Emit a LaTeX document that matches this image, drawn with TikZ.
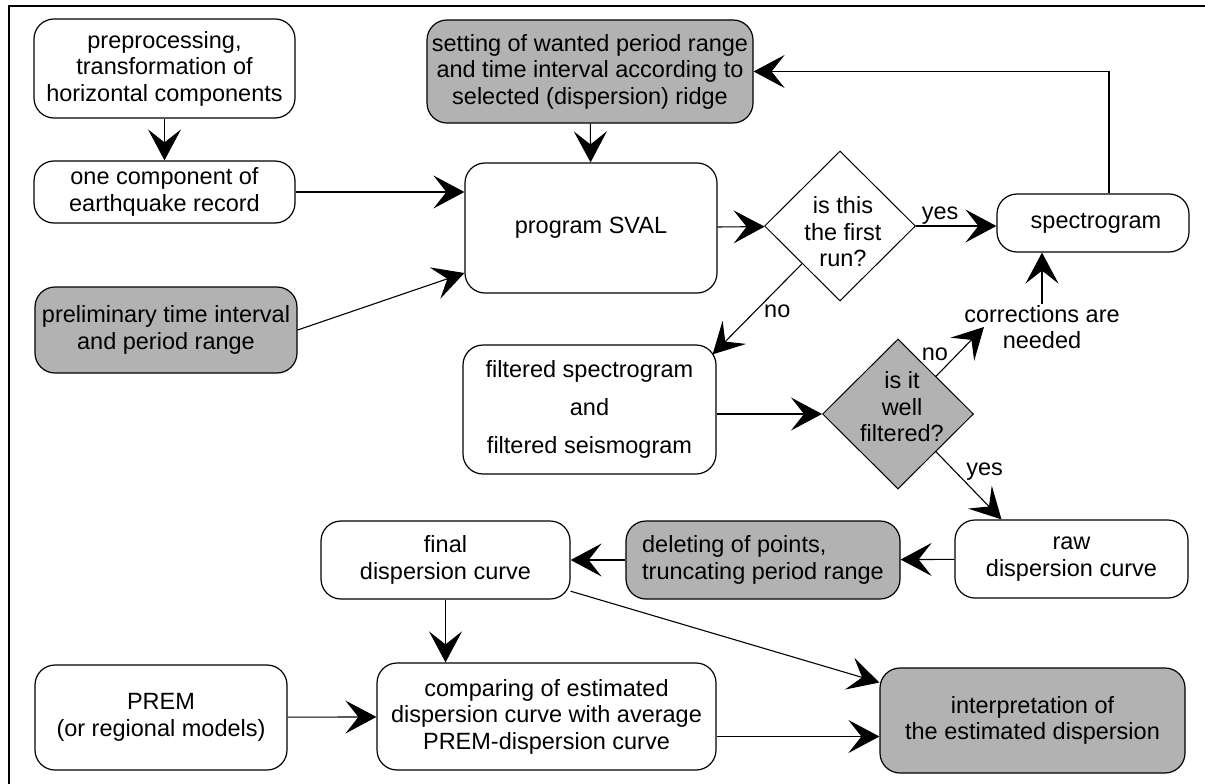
\documentclass[tikz,border=0pt]{standalone}
\usepackage{fontspec}
\setmainfont{Liberation Sans}
\usetikzlibrary{shapes.geometric,arrows.meta}

\begin{document}
\begin{tikzpicture}[x=1pt,y=-1pt,
    box/.style={draw, line width=1.2pt, rounded corners=20pt, align=center, inner sep=1pt, font=\fontsize{23.5}{26.5}\selectfont},
    shaded/.style={box, fill=black!30},
    decision/.style={draw, diamond, line width=1pt, minimum width=151pt, minimum height=150pt, inner sep=0pt},
    arr/.style={-{Stealth[length=31pt,width=33pt,inset=13pt]}, line width=1.1pt},
    lbl/.style={font=\fontsize{23.5}{26.5}\selectfont, inner sep=1pt}]
   \useasboundingbox (0,0) rectangle (1205,784);
   \draw[line width=1.5pt] (9,784) -- (9,6) -- (1205,6);

   \node[box, minimum width=261pt, minimum height=99pt] (pre) at (164.5,68.5) {preprocessing,\\transformation of\\horizontal components};
   \node[box, minimum width=261pt, minimum height=62pt] (comp) at (164.5,192) {one component of\\earthquake record};
   \node[shaded, minimum width=262pt, minimum height=86pt] (prelim) at (166,330) {preliminary time interval\\and period range};
   \node[shaded, minimum width=326pt, minimum height=103pt] (set) at (590,71.5) {setting of wanted period range\\and time interval according to\\selected (dispersion) ridge};
   \node[box, minimum width=252pt, minimum height=130pt] (sval) at (591,228) {program SVAL};
   \node[decision, label={[lbl,align=center,xshift=3pt,yshift=-6pt]center:is this\\the first\\run?}] (d1) at (840,226) {};
   \node[box, minimum width=192pt, minimum height=58pt] (spec) at (1093,223) {\hspace{6pt}spectrogram};
   \node[lbl, align=center] (corr) at (1042,327) {corrections are\\needed};
   \node[box, minimum width=253pt, minimum height=129pt, font=\fontsize{23.5}{38}\selectfont] (filt) at (589.5,409.5) {filtered spectrogram\\and\\filtered seismogram};
   \node[decision, fill=black!30, label={[lbl,align=center,xshift=4pt,yshift=7pt]center:is it\\well\\filtered?}] (d2) at (898,414) {};
   \node[box, minimum width=233pt, minimum height=78pt] (raw) at (1071.5,559) {raw\\dispersion curve};
   \node[shaded, minimum width=274pt, minimum height=78pt, align=left] (del) at (763,560) {deleting of points,\\truncating period range};
   \node[box, minimum width=249pt, minimum height=78pt] (final) at (445.5,560) {final\\dispersion curve};
   \node[box, minimum width=252pt, minimum height=105pt] (prem) at (161,717.5) {PREM\\(or regional models)};
   \node[box, minimum width=339pt, minimum height=107pt] (cmp) at (546.5,716.5) {comparing of estimated\\dispersion curve with average\\PREM-dispersion curve};
   \node[shaded, minimum width=305pt, minimum height=105pt] (interp) at (1032.5,720.5) {interpretation of\\the estimated dispersion};

   \draw[arr] (pre) -- (comp);
   \draw[arr] (comp.east) -- (comp.east -| sval.west);
   \draw[arr] (prelim.east) -- ([yshift=-45pt]sval.west);
   \draw[arr] (set) -- (sval);
   \draw[arr] (sval) -- (d1);
   \draw[arr] (d1.east) -- node[lbl, above, pos=.3] {yes} (d1.east -| spec.west);
   \draw[arr] ([xshift=16pt]spec.north) |- (set.east);
   \draw[arr] (d1.south west) -- node[lbl, pos=.44, below right] {no} ([xshift=-4pt,yshift=-10pt]filt.north east);
   \draw[arr] (filt.east |- d2.west) -- (d2.west);
   \draw[arr] (d2.north east) -- node[lbl, pos=.28, above left] {no} ([xshift=-58pt]corr.center);
   \draw[arr] (corr) -- (corr |- spec.south);
   \draw[arr] (d2.south east) -- node[lbl, pos=.44, above right] {yes} ([xshift=-70pt]raw.north);
   \draw[arr] (raw) -- (del);
   \draw[arr] (del) -- (final);
   \draw[arr] (final) -- (final |- cmp.north);
   \draw[arr] (final.-14) -- ([yshift=38pt]interp.west);
   \draw[arr] (prem) -- (cmp);
   \coordinate (c1) at ([yshift=-20pt]cmp.east);
   \draw[arr] (c1) -- (c1 -| interp.west);
\end{tikzpicture}
\end{document}
